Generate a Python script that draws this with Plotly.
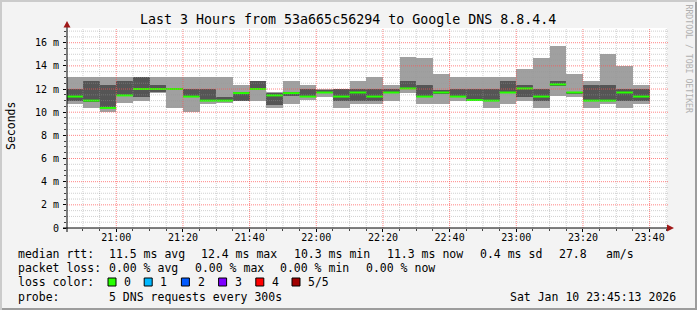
import plotly.graph_objects as go
from datetime import datetime, timedelta

# ---------------- data ----------------
bar_start = "2026-01-10 20:45:00"   # start of first 300 s step
step_seconds = 300
ping_min = [10.75, 10.40, 10.05, 10.78, 11.00, 11.70, 10.40, 10.05, 10.72, 10.80,
            10.95, 11.00, 10.40, 10.70, 11.05, 11.35, 10.40, 10.75, 10.75, 11.00,
            11.70, 10.72, 10.72, 11.00, 10.95, 10.40, 10.72, 11.00, 10.40, 11.40,
            11.35, 10.40, 10.70, 10.40, 10.70]
ping_low = [11.00, 10.90, 10.35, 11.40, 11.35, 11.75, 11.95, 11.30, 10.95, 10.95,
            11.00, 11.95, 10.65, 11.40, 11.30, 11.65, 11.00, 11.00, 11.00, 11.65,
            12.00, 11.30, 11.60, 11.30, 11.00, 10.98, 11.65, 11.35, 11.00, 12.30,
            11.65, 10.95, 10.95, 11.00, 11.00]
median = [11.35, 11.00, 10.37, 11.45, 12.00, 12.00, 12.00, 11.35, 11.00, 11.00,
          11.65, 12.00, 11.45, 11.65, 11.35, 11.70, 11.35, 11.70, 11.35, 11.70,
          12.05, 11.35, 11.70, 11.35, 11.05, 11.00, 11.70, 12.05, 11.35, 12.40,
          11.70, 11.00, 11.00, 11.70, 11.35]
ping_high = [12.00, 12.70, 12.35, 12.70, 13.00, 12.35, 12.05, 12.00, 12.00, 11.30,
             11.75, 12.70, 11.70, 11.75, 12.00, 11.95, 11.98, 12.00, 12.00, 12.00,
             12.70, 12.35, 11.90, 12.00, 12.00, 12.00, 12.70, 12.35, 12.00, 12.70,
             11.75, 12.35, 12.35, 12.00, 12.00]
ping_max = [13.00, 13.00, 13.00, 13.00, 13.00, 13.00, 13.00, 13.00, 13.00, 13.00,
            12.35, 12.70, 11.75, 12.70, 12.35, 12.00, 12.00, 12.70, 13.00, 12.35,
            14.80, 14.70, 13.30, 13.00, 13.00, 13.00, 13.00, 13.70, 14.70, 15.70,
            13.30, 12.70, 15.00, 14.00, 12.35]

x_range = ["2026-01-10 20:45:13", "2026-01-10 23:45:13"]
x_tick_vals = ["2026-01-10 21:00", "2026-01-10 21:20", "2026-01-10 21:40",
               "2026-01-10 22:00", "2026-01-10 22:20", "2026-01-10 22:40",
               "2026-01-10 23:00", "2026-01-10 23:20", "2026-01-10 23:40"]
x_tick_text = ["21:00", "21:20", "21:40", "22:00", "22:20", "22:40", "23:00", "23:20", "23:40"]
y_tick_vals = [0, 2, 4, 6, 8, 10, 12, 14, 16]
y_tick_text = ["0", "2 m", "4 m", "6 m", "8 m", "10 m", "12 m", "14 m", "16 m"]
y_max = 17.27

title_text = "Last 3 Hours from 53a665c56294 to Google DNS 8.8.4.4"
rtt_row = ["median rtt:", "11.5 ms avg", "12.4 ms max", "10.3 ms min", "11.3 ms now",
           "0.4 ms sd", "27.8", "am/s"]
loss_row = ["packet loss:", "0.00 % avg", "0.00 % max", "0.00 % min", "0.00 % now"]
loss_labels = ["0", "1", "2", "3", "4", "5/5"]
loss_colors = ["#26ff00", "#00b8ff", "#0059ff", "#7e00ff", "#ff0000", "#a00000"]
probe_row = ["probe:", "5 DNS requests every 300s"]
stamp_text = "Sat Jan 10 23:45:13 2026"

# ---------------- geometry helpers ----------------
W, H = 697, 310
ML, MR, MT, MB = 67, 30, 28, 82
PW, PH = W - ML - MR, H - MT - MB
FONT = "DejaVu Sans Mono"
MINOR_GRID = "rgba(150,150,150,0.45)"
MAJOR_GRID = "rgba(255,80,80,0.7)"


def px(x):
    return (x - ML) / PW


def py(y):
    return (H - MB - y) / PH


t0 = datetime.strptime(bar_start, "%Y-%m-%d %H:%M:%S")
n = len(median)
starts = [t0 + timedelta(seconds=step_seconds * i) for i in range(n)]
ends = [s + timedelta(seconds=step_seconds) for s in starts]
centers = [s + timedelta(seconds=step_seconds / 2) for s in starts]
bar_w = step_seconds * 1000

fig = go.Figure()
fig.add_trace(go.Bar(x=centers, base=ping_min,
                     y=[b - a for a, b in zip(ping_min, ping_max)],
                     width=bar_w, marker=dict(color="#a0a0a0", line=dict(width=0)),
                     showlegend=False, hoverinfo="skip"))
fig.add_trace(go.Bar(x=centers, base=ping_low,
                     y=[b - a for a, b in zip(ping_low, ping_high)],
                     width=bar_w, marker=dict(color="#555555", line=dict(width=0)),
                     showlegend=False, hoverinfo="skip"))
mx, my = [], []
for s, e, m in zip(starts, ends, median):
    mx += [s, e, None]
    my += [m, m, None]
fig.add_trace(go.Scatter(x=mx, y=my, mode="lines", line=dict(color=loss_colors[0], width=2),
                         showlegend=False, hoverinfo="skip"))

shapes = []
# grid (drawn above the smoke, as rrdtool does)
gt = datetime(2026, 1, 10, 20, 50)
while gt <= datetime(2026, 1, 10, 23, 45):
    major = gt.minute % 20 == 0
    shapes.append(dict(type="line", xref="x", yref="paper", x0=gt, x1=gt, y0=0, y1=1,
                       layer="above",
                       line=dict(color=MAJOR_GRID if major else MINOR_GRID,
                                 width=1, dash="1px,1px")))
    gt += timedelta(minutes=5)
v = 0.5
while v <= 17.0 + 1e-9:
    major = abs(v / 2 - round(v / 2)) < 1e-9
    shapes.append(dict(type="line", xref="paper", yref="y", x0=0, x1=px(669), y0=v, y1=v,
                       layer="above",
                       line=dict(color=MAJOR_GRID if major else MINOR_GRID,
                                 width=1, dash="1px,1px")))
    v += 0.5

# axis lines + arrows
shapes.append(dict(type="line", xref="paper", yref="paper", x0=px(63), x1=px(670),
                   y0=py(228), y1=py(228), layer="above", line=dict(color="black", width=1)))
shapes.append(dict(type="line", xref="paper", yref="paper", x0=px(67), x1=px(67),
                   y0=py(232), y1=py(26), layer="above", line=dict(color="black", width=1)))
arrow_col = "#a01818"
shapes.append(dict(type="path", xref="paper", yref="paper", layer="above",
                   path=f"M {px(667)} {py(224.5)} L {px(674)} {py(228)} L {px(667)} {py(231.5)} Z",
                   fillcolor=arrow_col, line=dict(width=0)))
shapes.append(dict(type="path", xref="paper", yref="paper", layer="above",
                   path=f"M {px(63.5)} {py(27.5)} L {px(67)} {py(21)} L {px(70.5)} {py(27.5)} Z",
                   fillcolor=arrow_col, line=dict(width=0)))

# frame shading
shade_a, shade_b = "#cbcbcb", "#9c9c9c"
shapes += [
    dict(type="rect", xref="paper", yref="paper", x0=px(0), x1=px(W), y0=py(0), y1=py(2),
         fillcolor=shade_a, line=dict(width=0), layer="below"),
    dict(type="rect", xref="paper", yref="paper", x0=px(0), x1=px(2), y0=py(0), y1=py(H),
         fillcolor=shade_a, line=dict(width=0), layer="below"),
    dict(type="rect", xref="paper", yref="paper", x0=px(W - 2), x1=px(W), y0=py(2), y1=py(H),
         fillcolor=shade_b, line=dict(width=0), layer="below"),
    dict(type="rect", xref="paper", yref="paper", x0=px(2), x1=px(W), y0=py(H - 2), y1=py(H),
         fillcolor=shade_b, line=dict(width=0), layer="below"),
]

# legend colour boxes
box_x = [108, 144.2, 181.4, 218.6, 255.8, 292]
for bx, c in zip(box_x, loss_colors):
    shapes.append(dict(type="rect", xref="paper", yref="paper", x0=px(bx), x1=px(bx + 8),
                       y0=py(278), y1=py(286), fillcolor=c, line=dict(color="black", width=1)))

annotations = []


def ann(text, x, y, xanchor="left", size=11.5, color="#000000", angle=0):
    annotations.append(dict(text=text, x=px(x), y=py(y), xref="paper", yref="paper",
                            xanchor=xanchor, yanchor="middle", showarrow=False,
                            textangle=angle, font=dict(family=FONT, size=size, color=color)))


ann(title_text, 348, 19, xanchor="center", size=13.3)
ann("Seconds", 11, 126, xanchor="center", size=11.5, angle=-90)
ann("RRDTOOL / TOBI OETIKER", 688.5, 59, xanchor="center", size=8.2, color="#b0b0b0", angle=90)

rtt_x = [16, 107, 199, 292, 385, 478, 557, 604]
for t, x in zip(rtt_row, rtt_x):
    ann(t, x, 254)
loss_x = [16, 107, 193, 278, 364]
for t, x in zip(loss_row, loss_x):
    ann(t, x, 268)
ann("loss color:", 16, 282)
lab_x = [122.1, 158.4, 195.6, 232.7, 269.9, 306.2]
for t, x in zip(loss_labels, lab_x):
    ann(t, x, 282)
ann(probe_row[0], 16, 296.5)
ann(probe_row[1], 107, 296.5)
ann(stamp_text, 678, 296.5, xanchor="right")

fig.update_layout(
    width=W, height=H, autosize=False,
    margin=dict(l=ML, r=MR, t=MT, b=MB, pad=0),
    paper_bgcolor="#f3f3f3", plot_bgcolor="#ffffff",
    barmode="overlay", bargap=0, hovermode=False,
    shapes=shapes, annotations=annotations,
    font=dict(family=FONT, size=10, color="#000000"),
    xaxis=dict(type="date", range=x_range, tickvals=x_tick_vals, ticktext=x_tick_text,
               showgrid=False, zeroline=False, showline=False,
               ticks="outside", ticklen=3, tickcolor="#000000", tickwidth=1,
               ticklabelstandoff=-3,
               tickfont=dict(family=FONT, size=10, color="#000000"),
               minor=dict(dtick=step_seconds * 1000, ticks="outside", ticklen=2,
                          tickcolor="#444444", showgrid=False)),
    yaxis=dict(range=[0, y_max], tickvals=y_tick_vals, ticktext=y_tick_text,
               showgrid=False, zeroline=False, showline=False,
               ticks="outside", ticklen=3, tickcolor="#000000", tickwidth=1,
               ticklabelstandoff=2,
               tickfont=dict(family=FONT, size=10, color="#000000"),
               minor=dict(dtick=0.5, ticks="outside", ticklen=2,
                          tickcolor="#444444", showgrid=False)),
)

fig.write_html("out.html")
